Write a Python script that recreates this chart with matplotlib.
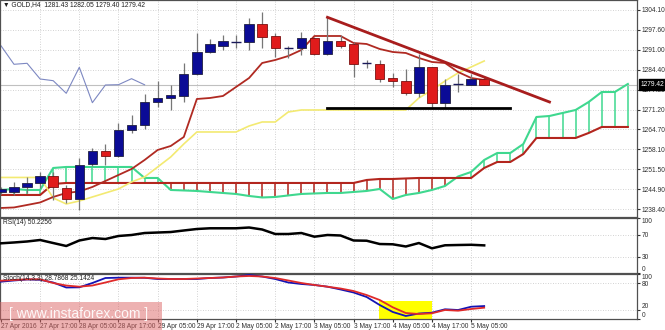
import numpy as np
import matplotlib.pyplot as plt
from matplotlib.patches import Rectangle
from matplotlib.transforms import blended_transform_factory

plt.rcParams['font.family'] = ['Liberation Sans', 'DejaVu Sans']

# GOLD H4, velas a partir do indice -1 (27 Apr 05:00)
opens = [1244.04, 1244.13, 1245.78, 1247.10, 1249.32, 1245.26, 1241.63, 1253.28, 1257.41, 1255.76,
         1264.34, 1266.15, 1273.84, 1274.90, 1275.82, 1282.98, 1290.34, 1292.32, 1293.64, 1293.64,
         1299.48, 1295.52, 1291.46, 1291.46, 1294.96, 1289.58, 1293.87, 1292.78, 1286.45, 1286.18,
         1281.56, 1280.67, 1276.61, 1285.19, 1273.31, 1279.52, 1279.45, 1281.43]
highs = [1245.69, 1247.43, 1249.08, 1250.74, 1250.74, 1246.35, 1255.16, 1258.56, 1259.88, 1266.71,
         1269.45, 1276.38, 1280.77, 1279.35, 1286.51, 1296.51, 1294.43, 1295.85, 1295.85, 1301.36,
         1303.54, 1296.51, 1292.22, 1296.74, 1295.03, 1301.69, 1295.85, 1293.64, 1287.60, 1287.60,
         1283.21, 1284.63, 1289.58, 1285.29, 1281.33, 1282.98, 1282.98, 1282.05]
lows = [1243.38, 1243.05, 1243.71, 1245.36, 1241.40, 1240.41, 1238.10, 1252.62, 1252.95, 1255.59,
        1263.41, 1264.73, 1272.09, 1271.10, 1273.84, 1282.65, 1289.81, 1290.90, 1291.46, 1290.90,
        1291.46, 1288.69, 1288.16, 1289.25, 1289.25, 1289.25, 1291.46, 1282.09, 1284.86, 1280.24,
        1278.79, 1276.05, 1275.49, 1272.09, 1271.76, 1277.14, 1279.35, 1279.40]
closes = [1244.86, 1245.78, 1247.10, 1249.32, 1245.78, 1241.63, 1252.95, 1257.67, 1255.92, 1264.50,
          1265.99, 1273.84, 1274.90, 1275.89, 1282.98, 1290.34, 1292.78, 1293.87, 1293.57, 1299.48,
          1295.29, 1291.46, 1291.46, 1294.76, 1289.48, 1293.87, 1292.32, 1286.18, 1286.51, 1281.33,
          1280.77, 1276.61, 1285.19, 1273.51, 1279.35, 1279.45, 1281.43, 1279.42]

# Ichimoku
tenkan = [1238.76, 1238.93, 1239.75, 1240.58, 1242.39, 1243.71, 1244.21, 1245.69, 1247.67, 1249.65,
          1251.63, 1254.60, 1257.90, 1259.22, 1262.19, 1274.73, 1275.06, 1275.72, 1278.69, 1281.66,
          1286.61, 1287.60, 1288.92, 1290.90, 1295.52, 1295.52, 1295.52, 1293.21, 1292.88, 1291.23,
          1290.24, 1289.91, 1288.26, 1286.94, 1286.61, 1283.64, 1281.66, 1281.00]
kijun = ([1248.83] * 4 + [1242.06, 1240.08, 1241.07, 1242.39, 1243.71, 1245.03, 1247.34, 1249.00,
         1252.29, 1255.59, 1259.88] + [1263.84] * 4 + [1265.82, 1267.14, 1267.14, 1270.44]
         + [1271.10] * 9 + [1275.06, 1277.70, 1280.67, 1283.31, 1285.29, 1287.27])
span_a = [1244.70, 1245.03, 1244.70, 1244.70, 1251.96] + [1252.29] * 6 + [1248.66, 1248.66,
          1244.70, 1244.54, 1244.37, 1244.04, 1243.71, 1243.38, 1242.72, 1242.23, 1242.39, 1242.89,
          1243.38, 1243.55, 1243.71, 1243.71, 1244.04, 1244.37, 1245.03, 1241.73, 1243.05, 1243.71,
          1244.70, 1246.02, 1249.15, 1250.64, 1254.60, 1256.91, 1256.91, 1259.88, 1268.79, 1269.12,
          1270.11, 1271.10, 1273.74, 1277.04, 1277.04, 1279.68]
span_b = ([1243.05] * 4 + [1246.68] + [1247.01] * 23 + [1248.00, 1248.33, 1248.33, 1248.50]
          + [1248.66] * 5 + [1251.96, 1253.94, 1253.94, 1256.58] + [1261.86] * 4 + [1263.51]
          + [1265.49] * 3)

# RSI(14) e Stoch(14,3,3)
rsi = [54.0, 55.5, 57.3, 60.0, 54.5, 49.1, 59.1, 63.6, 61.8, 67.3, 69.1, 72.7, 73.6, 74.5, 77.3,
       80.0, 81.3, 81.3, 81.3, 82.7, 79.1, 70.9, 70.9, 72.7, 66.0, 69.1, 68.2, 59.1, 58.7, 52.7,
       52.2, 48.2, 54.5, 44.9, 50.4, 50.9, 51.3, 50.2256]
stoch_k = [82.9, 85.6, 87.8, 87.1, 81.1, 70.0, 70.4, 80.0, 91.1, 91.8, 91.8, 91.6, 88.9, 88.9,
           88.9, 88.9, 91.1, 92.2, 94.4, 97.8, 94.4, 88.9, 81.1, 77.8, 75.6, 71.8, 65.6, 58.9,
           48.9, 31.1, 15.6, 6.7, 12.2, 14.0, 21.6, 20.0, 27.3, 28.7868]
stoch_d = [85.1, 86.7, 88.2, 88.2, 80.0, 74.4, 71.8, 74.4, 81.1, 88.2, 91.1, 91.8, 90.0, 88.9,
           88.9, 90.0, 91.1, 92.2, 94.4, 95.6, 94.4, 91.1, 85.6, 80.0, 75.6, 71.8, 67.8, 62.2,
           53.3, 42.2, 26.0, 13.3, 11.1, 12.7, 20.0, 18.4, 22.2, 25.1424]

# linhas desenhadas a mao
trend_x = [24, 41]
trend_y = [1301.69, 1273.74]
support_x = [24, 38]
support_y = [1271.66, 1271.66]
highlight = (27.95, 32.0, 40.7)  # x0, x1, topo no stoch

price_ticks = [1304.10, 1297.60, 1291.00, 1284.40, 1277.80, 1271.20, 1264.70,
               1258.10, 1251.50, 1244.90, 1238.40]
date_idx = [-1, 2, 5, 8, 11, 14, 17, 20, 23, 26, 29, 32, 35]
date_labels = ['27 Apr 2016', '27 Apr 17:00', '28 Apr 05:00', '28 Apr 17:00', '29 Apr 05:00',
               '29 Apr 17:00', '2 May 05:00', '2 May 17:00', '3 May 05:00', '3 May 17:00',
               '4 May 05:00', '4 May 17:00', '5 May 05:00']

idx = np.arange(-1, -1 + len(opens))
o, h, l, c = map(np.array, (opens, highs, lows, closes))
cidx = np.arange(-1, -1 + len(span_a))
sa, sb = np.array(span_a), np.array(span_b)

W, H = 665, 330
fig = plt.figure(figsize=(W / 100, H / 100), dpi=100)


def box(x0, y0, x1, y1):
    return [x0 / W, 1 - y1 / H, (x1 - x0) / W, (y1 - y0) / H]


ax = fig.add_axes(box(0, 0, 637, 217))
ax_rsi = fig.add_axes(box(0, 218, 637, 273))
ax_st = fig.add_axes(box(0, 274, 637, 319))

gridc = '#c4c4c4'
for a in (ax, ax_rsi, ax_st):
    a.set_xlim(-1.072, 47.70)
    for s in a.spines.values():
        s.set_color('#505050')
        s.set_linewidth(0.9)
    for xv in date_idx[1:]:
        a.axvline(xv, color=gridc, lw=0.6, ls=(0, (1, 2)), zorder=0)
    a.yaxis.tick_right()
    a.tick_params(axis='y', length=2, pad=1.5, labelsize=4.8, colors='#303030')
    a.tick_params(axis='x', length=2, pad=1, labelsize=4.8, colors='#303030')

# ---- painel principal ----
ax.set_ylim(1235.78, 1307.40)
ax.set_yticks(price_ticks)
ax.set_yticklabels(['%.2f' % p for p in price_ticks])
ax.set_xticks([])
for lv in price_ticks:
    ax.axhline(lv, color=gridc, lw=0.6, ls=(0, (1, 2)), zorder=0)

# nuvem hachurada
green, dred = '#3fd88f', '#b3261e'
ax.vlines(cidx[sa > sb], sb[sa > sb], sa[sa > sb], color=green, lw=1.1, zorder=1)
ax.vlines(cidx[sa < sb], sa[sa < sb], sb[sa < sb], color=dred, lw=1.1, zorder=1)
ax.plot(cidx, sa, color=green, lw=1.5, zorder=2)
ax.plot(cidx, sb, color=dred, lw=1.5, zorder=2)

ax.plot(idx, kijun, color='#f3ea72', lw=1.2, zorder=2)
ax.plot(idx, tenkan, color='#b02a22', lw=1.3, zorder=2)
ax.plot(idx[25:] - 26, c[25:], color='#7d88c2', lw=0.8, zorder=2)
ax.axhline(c[-1], color='#c0c0c0', lw=0.8, zorder=1)

up = c > o + 0.15
dn = c < o - 0.15
dj = ~(up | dn)
ax.vlines(idx, l, h, color='#777777', lw=0.9, zorder=4)
ax.bar(idx[up], (c - o)[up], bottom=o[up], width=0.72, color='#0b0b96',
       edgecolor='#202040', lw=0.6, zorder=5)
ax.bar(idx[dn], (c - o)[dn], bottom=o[dn], width=0.72, color='#e01b1b',
       edgecolor='#7a1010', lw=0.6, zorder=5)
ax.hlines(o[dj], idx[dj] - 0.36, idx[dj] + 0.36, color='#1a1a5a', lw=1.0, zorder=5)

ax.plot(trend_x, trend_y, color='#a81d1d', lw=2.0, zorder=6)
ax.plot(support_x, support_y, color='black', lw=2.0, zorder=6)

ax.text(3 / 637, 1 - 5 / 217, '▼ GOLD,H4  1281.43 1282.05 1279.40 1279.42',
        transform=ax.transAxes, fontsize=4.8, va='center', ha='left', color='#202020')
bt = blended_transform_factory(ax.transAxes, ax.transData)
ax.text(641 / 637, c[-1], '%.2f' % c[-1], transform=bt, fontsize=4.8, color='white',
        va='center', ha='left', zorder=10, clip_on=False,
        bbox=dict(boxstyle='square,pad=0.3', fc='black', ec='black'))

# ---- RSI ----
ax_rsi.set_ylim(0, 100)
ax_rsi.set_xticks([])
ax_rsi.set_yticks([100, 70, 30, 0])
ax_rsi.set_yticklabels(['100', '70', '30', '0'])
for lv in (70, 30):
    ax_rsi.axhline(lv, color=gridc, lw=0.6, ls=(0, (1, 2)), zorder=0)
ax_rsi.plot(idx, rsi, color='black', lw=1.8, zorder=3)
ax_rsi.text(3 / 637, 1 - 5 / 55, 'RSI(14) 50.2256', transform=ax_rsi.transAxes,
            fontsize=4.8, va='center', ha='left', color='#202020')

# ---- Stochastic ----
ax_st.set_ylim(0, 100)
ax_st.set_yticks([100, 80, 20, 0])
ax_st.set_yticklabels(['100', '80', '20', '0'])
for lv in (80, 20):
    ax_st.axhline(lv, color=gridc, lw=0.6, ls=(0, (1, 2)), zorder=0)
ax_st.add_patch(Rectangle((highlight[0], 0), highlight[1] - highlight[0], highlight[2],
                          fc='#ffff00', ec='none', zorder=1))
ax_st.plot(idx, stoch_k, color='#1414b4', lw=1.3, zorder=3)
ax_st.plot(idx, stoch_d, color='#e02a2a', lw=1.3, zorder=3)
ax_st.text(3 / 637, 1 - 5 / 45, 'Stoch(14,3,3) 28.7868 25.1424', transform=ax_st.transAxes,
           fontsize=4.8, va='center', ha='left', color='#202020')
ax_st.set_xticks(date_idx)
ax_st.set_xticklabels(date_labels, ha='left')

for a in (ax_rsi, ax_st):
    labs = a.get_yticklabels()
    labs[0].set_verticalalignment('top')
    labs[-1].set_verticalalignment('bottom')
# 80/20 afastados dos extremos para nao colidir
st_labs = ax_st.get_yticklabels()
st_labs[1].set_verticalalignment('center_baseline')
st_labs[2].set_verticalalignment('bottom')

# marca d'agua
fig.add_artist(Rectangle((0, 0), 162 / W, 28 / H, transform=fig.transFigure,
                         fc='#dc6464', ec='none', alpha=0.5))
fig.text(9 / W, 16 / H, '[ www.instaforex.com ]', fontsize=10, color='white',
         alpha=0.9, va='center', ha='left', family='Liberation Sans')

fig.savefig('out.png', dpi=100)
